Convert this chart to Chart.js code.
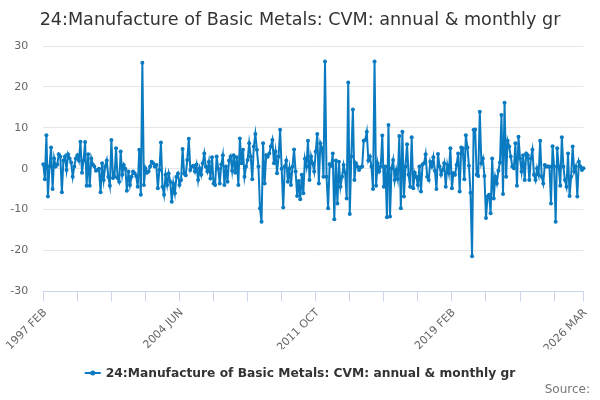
<!DOCTYPE html>
<html>
<head>
<meta charset="utf-8">
<script src="https://cdn.jsdelivr.net/npm/chart.js@4.4.1/dist/chart.umd.min.js"></script>
<style>
  html, body { margin: 0; padding: 0; background: #fff; }
</style>
</head>
<body>
<canvas id="myChart" width="600" height="400"></canvas>
<script>
/* Manufacture of basic metals, monthly growth, 1997 FEB .. 2026 MAR */
var monthNames = ['JAN','FEB','MAR','APR','MAY','JUN','JUL','AUG','SEP','OCT','NOV','DEC'];
var startYear = 1997, startMonth = 1, monthCount = 350;

var growth = [
  1.1, -2.6, 8.2, -6.8, 0.5, 5.2, -5.0, 2.5, 0.5, 1.0,
  3.5, 3.0, -5.8, 2.0, 3.0, -0.3, 3.5, 2.5, 1.5, -2.0,
  0.5, 2.5, 3.3, 2.0, 6.6, -1.0, 2.0, 6.5, -4.2, 3.5,
  -4.2, 2.5, 1.0, 0.5, -0.5, -0.3, 0.0, -5.8, 1.3, -2.8,
  0.5, 2.0, -2.0, -4.2, 7.0, -2.3, -2.0, 5.0, -2.3, -3.2,
  4.2, -1.5, 0.9,
  0.0, -5.4, -0.7, -4.0, -2.0, -0.7, -1.1, -1.8, -4.4, 4.6,
  -6.4, 25.9, -4.0, 0.1, -1.0, -0.7, 0.5, 1.7, 1.3, 0.5,
  0.9, -4.8, -0.3, 6.4, -4.4, -6.4, -1.5, -4.0, -1.2, -3.2,
  -8.1, -3.6, -6.0, -2.0, -1.2, -4.0, -2.8, 4.8, -1.2, -1.6,
  2.1, 7.3, -0.3, 0.5, 0.7, -0.7, 1.0, -2.8, 0.1, -1.5,
  1.3, 3.7, 0.5, -0.7, 1.7, -2.4, 2.8, -3.6,
  -4.0, 3.0, 0.0, -3.6, 1.0, 3.3, -4.0, 0.5, -3.2, 2.0,
  3.0, -0.5, 3.3, -1.0, 2.8, -4.0, 7.4, 1.3, 4.6, -2.0,
  0.5, 2.1, 6.2, 3.0, -2.6, 5.4, 8.5, 4.6, 0.5, -9.7,
  -13.0, 6.2, -3.6, 3.3, 2.9, 3.7, 5.4, 7.0,
  1.3, 4.2, -1.1, 3.0, 9.5, 0.0, -9.5, 0.5, 2.0, -3.2,
  0.0, -4.0, 0.5, 4.7, -0.7, -6.7, -3.0, -7.5, -1.5, -6.0,
  2.4, 0.5, 6.8, -2.8, 3.0, 1.3, -0.7, 4.2, 8.5, -3.6,
  6.2, 5.0, -2.0, 26.2, -2.0, -9.7, 1.1, 0.7, 3.7, -12.4,
  2.0, -8.5, 1.7, -4.4, -2.0, 0.9, -1.0, -7.3, 21.1, -11.1,
  3.0, 14.5, -2.8, 1.3, 0.5, -0.3, 0.3, 0.5, 6.8, 7.0,
  9.0, 2.0, 3.0, 0.5, -5.0, 26.2, -4.2, 1.3, -0.7, 0.5,
  8.1, -4.4, 0.5, -11.9, 10.7, -11.7, 0.1, 2.1, -2.8, -0.3,
  -2.5, 8.0, -9.7, 9.0, -6.8, 0.5, 6.0, -1.5, -4.4, 7.7,
  -4.8, -1.0, -2.0, -4.0, 0.5, -5.6, 1.0, 1.3, 3.5, -2.0,
  -2.8, 1.7, 0.5, 2.8, -0.5, -5.0, 3.6, 0.5, -1.5, -0.3,
  1.3, -4.4, 0.9, -1.1, 5.0, -4.8, -1.1, -1.5, 0.9, 3.7,
  -5.6,
  5.2, 5.0, -2.6, 8.2, 5.2, 0.7, -5.9, -21.4, 9.5, 9.6,
  -1.5, -1.8, 13.9, 1.3, 2.5, -1.8, -12.1, -6.8, -6.4, -10.9,
  2.5, -7.3, -2.0, -3.6, -0.5, 1.5, 13.1, -6.2, 16.1, -2.0,
  6.8, 5.4, 3.0, 0.5, 0.1, 6.2, -4.2, 7.8,
  2.5, -0.7, 3.3, -2.8, 3.7, 3.3, -2.8, 2.5, 4.6, -1.5,
  -2.8, 0.1, -1.5, 6.8, -2.0, -3.6, 0.9, 0.5, 0.5, 0.5,
  -8.5, 5.5, 0.5, -13.0, 5.0, 0.5, -4.2, 7.7, 0.5, -2.8,
  -4.4, 3.7, -6.7, -2.0, 5.4, -0.7, 0.5, -6.8, 1.7, 0.5,
  -0.3, 0.1
];

// tick marks every 22 months plus the last month, labels on every 4th one
var tickPos = [0, 22, 44, 66, 88, 110, 132, 154, 176, 198, 220, 242, 264, 286, 308, 330, 349];
var tickLabels = ['1997 FEB', '2004 JUN', '2011 OCT', '2019 FEB', '2026 MAR'];

var monthLabels = [];
for (var i = 0; i < monthCount; i++) {
  var m = startMonth + i;
  monthLabels.push((startYear + Math.floor(m / 12)) + ' ' + monthNames[m % 12]);
}

var lineColor = '#0b7bc1';
var seriesName = '24:Manufacture of Basic Metals: CVM: annual & monthly gr';

Chart.defaults.font.family = '"DejaVu Sans", sans-serif';

// legend + source line drawn under the axis
var bottomText = {
  id: 'bottomText',
  afterDraw: function(chart) {
    var ctx = chart.ctx;
    var ds = chart.data.datasets[0];
    ctx.save();
    ctx.font = 'bold 12.25px "DejaVu Sans"';
    var tw = ctx.measureText(ds.label).width;
    var sw = 16, gap = 5, y = 373;
    var x0 = (chart.width - (sw + gap + tw)) / 2;
    ctx.strokeStyle = ds.borderColor;
    ctx.lineWidth = 2;
    ctx.beginPath();
    ctx.moveTo(x0, y);
    ctx.lineTo(x0 + sw, y);
    ctx.stroke();
    ctx.fillStyle = ds.borderColor;
    ctx.beginPath();
    ctx.arc(x0 + sw / 2, y, 2.5, 0, Math.PI * 2);
    ctx.fill();
    ctx.fillStyle = '#333';
    ctx.textAlign = 'left';
    ctx.textBaseline = 'middle';
    ctx.fillText(ds.label, x0 + sw + gap, y + 0.5);
    ctx.font = '12px "DejaVu Sans"';
    ctx.fillStyle = '#777';
    ctx.textAlign = 'right';
    ctx.fillText('Source:', 590, 390);
    ctx.restore();
  }
};

var ctx1 = document.getElementById('myChart').getContext('2d');
window.myLine = new Chart(ctx1, {
  type: 'line',
  data: {
    labels: monthLabels,
    datasets: [{
      label: seriesName,
      data: growth,
      borderColor: lineColor,
      backgroundColor: lineColor,
      borderWidth: 2,
      pointRadius: 2,
      pointBorderWidth: 0,
      pointBackgroundColor: lineColor,
      tension: 0
    }]
  },
  options: {
    animation: false,
    responsive: false,
    layout: {
      padding: { left: 0, right: 0, top: 0, bottom: 50.7 }
    },
    plugins: {
      legend: { display: false },
      tooltip: { enabled: false },
      title: {
        display: true,
        text: seriesName,
        color: '#333',
        font: { size: 17.6, weight: 'normal' },
        padding: { top: 9.5, bottom: 15.4 }
      }
    },
    scales: {
      x: {
        type: 'category',
        offset: false,
        afterFit: function(scale) { scale.height = 58; },
        afterBuildTicks: function(scale) {
          scale.ticks = tickPos.map(function(v) { return { value: v }; });
        },
        border: { color: '#ccd6eb' },
        grid: {
          drawOnChartArea: false,
          tickLength: 10,
          tickColor: '#ccd6eb'
        },
        ticks: {
          autoSkip: false,
          minRotation: 45,
          maxRotation: 45,
          padding: 5,
          labelOffset: 2,
          color: '#666',
          font: { size: 11 },
          callback: function(v) {
            var lab = monthLabels[v];
            return tickLabels.indexOf(lab) >= 0 ? lab : '';
          }
        }
      },
      y: {
        min: -30,
        max: 30,
        afterFit: function(scale) { scale.width = 43.3; },
        border: { display: false },
        grid: { color: '#e6e6e6', drawTicks: false },
        ticks: {
          stepSize: 10,
          padding: 15,
          color: '#666',
          font: { size: 11 }
        }
      },
      // empty strip on the right so the title stays centred on the page
      spacer: {
        position: 'right',
        afterFit: function(scale) { scale.width = 16.5; },
        border: { display: false },
        grid: { display: false },
        ticks: { display: false }
      }
    }
  },
  plugins: [bottomText]
});
</script>
</body>
</html>
